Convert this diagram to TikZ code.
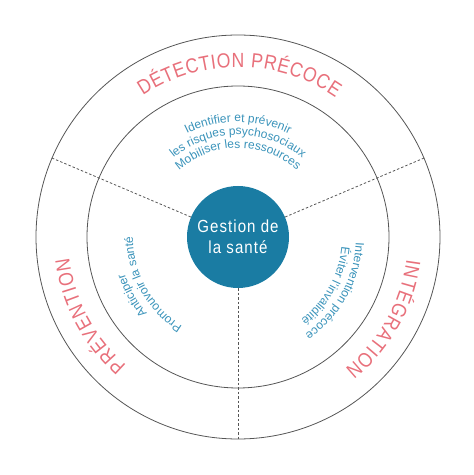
\documentclass[tikz,border=0pt]{standalone}
\usepackage{fontspec}
\setmainfont{Liberation Sans}
\newfontfamily\condfont[FakeStretch=0.86]{Liberation Sans}
\newfontfamily\hubfont[FakeStretch=0.86,LetterSpace=6]{Liberation Sans}
\usetikzlibrary{decorations.text}
\definecolor{ringred}{HTML}{E8707B}
\definecolor{taskblue}{HTML}{3A93BA}
\definecolor{hubblue}{HTML}{1A7CA3}
\definecolor{linegray}{HTML}{555555}
\newcommand\phasefont{\condfont\fontsize{20.5}{21}\selectfont}
\newcommand\taskfont{\fontsize{12}{14}\selectfont}

\begin{document}
\begin{tikzpicture}[
  x=1pt, y=1pt,
  ring/.style={circle, draw=linegray, line width=0.8pt, inner sep=0pt},
  divider/.style={draw=linegray, line width=0.8pt, dash pattern=on 2.5pt off 2pt},
  hub/.style={circle, fill=hubblue, inner sep=0pt, minimum size=102pt, text=white, align=center, font=\hubfont\fontsize{17.5}{21}\selectfont},
  phase/.style={decorate, decoration={text along path, text color=ringred, text align=fit to path}},
  task/.style={decorate, decoration={text along path, text color=taskblue, text align=center}}
]
  \useasboundingbox (0,0) rectangle (474,475);
  \coordinate (C) at (238,238);

  \node[ring, minimum size=404pt] (outer) at (C) {};
  \node[ring, minimum size=302pt] (inner) at (C) {};
  \node[hub] (gestion) at (C) {Gestion de\\la santé};

  \foreach \a in {157,23,270}
    \draw[divider] (gestion.\a) -- (outer.\a);

  \path[phase, decoration={text={|\phasefont|DÉTECTION PRÉCOCE}}] (C) ++(124:170) arc[start angle=124, end angle=55, radius=170];
  \path[phase, decoration={text={|\phasefont|PRÉVENTION}}] (C) ++(229:170) arc[start angle=229, end angle=187, radius=170];
  \path[phase, decoration={text={|\phasefont|INTÉGRATION}}] (C) ++(352.5:170) arc[start angle=352.5, end angle=309, radius=170];

  \path[task, decoration={text={|\taskfont|Identifier et prévenir}}] (C) ++(170:115) arc[start angle=170, end angle=10, radius=115];
  \path[task, decoration={text={|\taskfont|les risques psychosociaux}}] (C) ++(170:102) arc[start angle=170, end angle=10, radius=102];
  \path[task, decoration={text={|\taskfont|Mobiliser les ressources}}] (C) ++(170:89) arc[start angle=170, end angle=10, radius=89];

  \path[task, decoration={text={|\taskfont|Anticiper}}] (C) ++(289:119) arc[start angle=289, end angle=129, radius=119];
  \path[task, decoration={text={|\taskfont|Promouvoir la santé}}] (C) ++(289:105) arc[start angle=289, end angle=129, radius=105];

  \path[task, decoration={text={|\taskfont|Intervention précoce}}] (C) ++(411:118) arc[start angle=411, end angle=251, radius=118];
  \path[task, decoration={text={|\taskfont|Éviter l'invalidité}}] (C) ++(411:104) arc[start angle=411, end angle=251, radius=104];
\end{tikzpicture}
\end{document}
